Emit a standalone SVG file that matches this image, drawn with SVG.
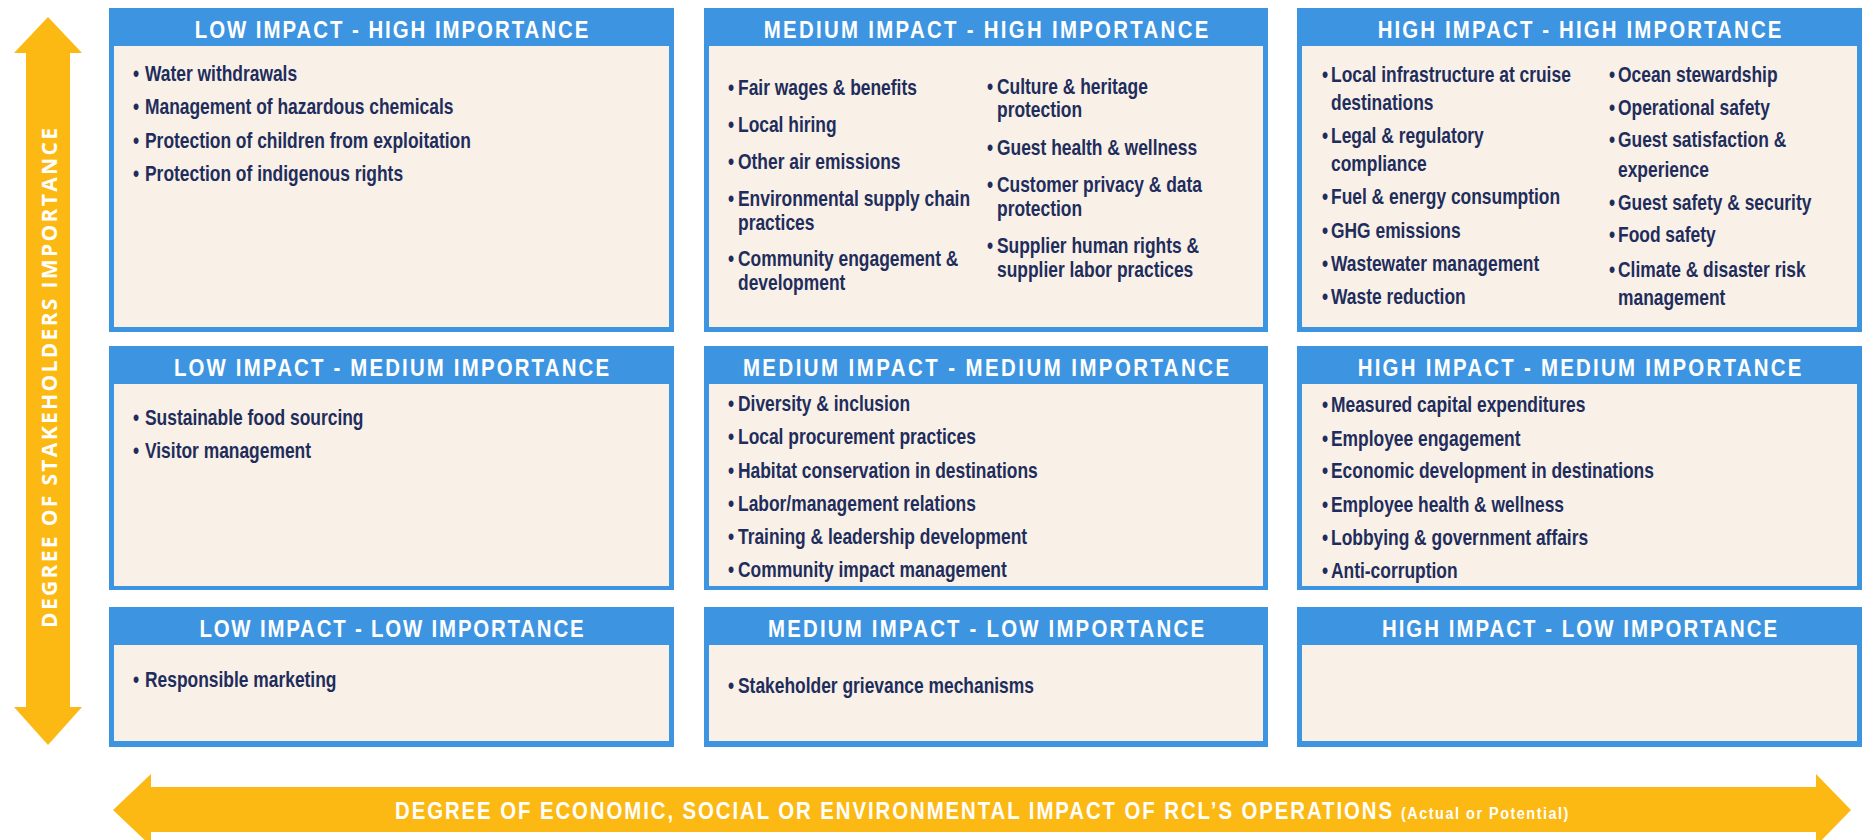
<svg xmlns="http://www.w3.org/2000/svg" width="1864" height="840" viewBox="0 0 1864 840">
<style>
.frame{fill:#3d95e2}
.cream{fill:#f9f1e7}
.hd{font-family:"Liberation Sans",Arial,sans-serif;font-weight:bold;font-size:24px;fill:#ffffff;text-anchor:middle}
.it{font-family:"Liberation Sans",Arial,sans-serif;font-weight:bold;font-size:21.5px;fill:#1f2d5c}
.ax{font-family:"Open Sans","Liberation Sans",sans-serif;font-weight:bold;font-size:21px;fill:#ffffff}
.axn{font-family:"Liberation Sans",Arial,sans-serif;font-weight:bold;fill:#ffffff}
.arrow{fill:#fdb913}
</style>
<rect width="1864" height="840" fill="#ffffff"/>
<g id="axes">
<polygon class="arrow" points="48,17 82,53 70,53 70,707 82,707 48,745 14,707 26,707 26,53 14,53"/>
<text class="ax" transform="translate(57,378) rotate(-90)" text-anchor="middle" textLength="500" lengthAdjust="spacing">DEGREE OF STAKEHOLDERS IMPORTANCE</text>
<polygon class="arrow" points="113,810 151,774 151,787 1816,787 1816,774 1851,810 1816,846 1816,832 151,832 151,846"/>
<g transform="translate(395 0) scale(0.85 1)">
<text class="axn" font-size="24" x="0" y="819" textLength="1173" lengthAdjust="spacing">DEGREE OF ECONOMIC, SOCIAL OR ENVIRONMENTAL IMPACT OF RCL’S OPERATIONS</text>
</g>
<g transform="translate(1401 0) scale(0.85 1)">
<text class="axn" font-size="17" x="0" y="819" textLength="197" lengthAdjust="spacing">(Actual or Potential)</text>
</g>
</g>
<g id="low-high">
<rect class="frame" x="109" y="8" width="565" height="324"/>
<rect class="cream" x="114" y="46" width="555" height="281"/>
<g transform="translate(391.5 0) scale(0.85 1)"><text class="hd" x="0" y="38" textLength="463" lengthAdjust="spacing">LOW IMPACT - HIGH IMPORTANCE</text></g>
<g transform="translate(145 0) scale(0.81 1)">
<text class="it" y="81"><tspan x="-14.8">•</tspan><tspan x="0">Water withdrawals</tspan></text>
<text class="it" y="114"><tspan x="-14.8">•</tspan><tspan x="0">Management of hazardous chemicals</tspan></text>
<text class="it" y="148"><tspan x="-14.8">•</tspan><tspan x="0">Protection of children from exploitation</tspan></text>
<text class="it" y="181"><tspan x="-14.8">•</tspan><tspan x="0">Protection of indigenous rights</tspan></text>
</g>
</g>
<g id="medium-high">
<rect class="frame" x="704" y="8" width="564" height="324"/>
<rect class="cream" x="709" y="46" width="554" height="281"/>
<g transform="translate(986 0) scale(0.85 1)"><text class="hd" x="0" y="38" textLength="523" lengthAdjust="spacing">MEDIUM IMPACT - HIGH IMPORTANCE</text></g>
<g transform="translate(738 0) scale(0.81 1)">
<text class="it" y="95"><tspan x="-12.3">•</tspan><tspan x="0">Fair wages &amp; benefits</tspan></text>
<text class="it" y="132"><tspan x="-12.3">•</tspan><tspan x="0">Local hiring</tspan></text>
<text class="it" y="169"><tspan x="-12.3">•</tspan><tspan x="0">Other air emissions</tspan></text>
<text class="it" y="206"><tspan x="-12.3">•</tspan><tspan x="0">Environmental supply chain</tspan><tspan x="0" y="230">practices</tspan></text>
<text class="it" y="266"><tspan x="-12.3">•</tspan><tspan x="0">Community engagement &amp;</tspan><tspan x="0" y="290">development</tspan></text>
</g>
<g transform="translate(997 0) scale(0.81 1)">
<text class="it" y="94"><tspan x="-12.3">•</tspan><tspan x="0">Culture &amp; heritage</tspan><tspan x="0" y="117">protection</tspan></text>
<text class="it" y="155"><tspan x="-12.3">•</tspan><tspan x="0">Guest health &amp; wellness</tspan></text>
<text class="it" y="192"><tspan x="-12.3">•</tspan><tspan x="0">Customer privacy &amp; data</tspan><tspan x="0" y="216">protection</tspan></text>
<text class="it" y="253"><tspan x="-12.3">•</tspan><tspan x="0">Supplier human rights &amp;</tspan><tspan x="0" y="277">supplier labor practices</tspan></text>
</g>
</g>
<g id="high-high">
<rect class="frame" x="1297" y="8" width="565" height="324"/>
<rect class="cream" x="1302" y="46" width="555" height="281"/>
<g transform="translate(1579.5 0) scale(0.85 1)"><text class="hd" x="0" y="38" textLength="475" lengthAdjust="spacing">HIGH IMPACT - HIGH IMPORTANCE</text></g>
<g transform="translate(1331 0) scale(0.81 1)">
<text class="it" y="82"><tspan x="-11.1">•</tspan><tspan x="0">Local infrastructure at cruise</tspan><tspan x="0" y="110">destinations</tspan></text>
<text class="it" y="143"><tspan x="-11.1">•</tspan><tspan x="0">Legal &amp; regulatory</tspan><tspan x="0" y="171">compliance</tspan></text>
<text class="it" y="204"><tspan x="-11.1">•</tspan><tspan x="0">Fuel &amp; energy consumption</tspan></text>
<text class="it" y="238"><tspan x="-11.1">•</tspan><tspan x="0">GHG emissions</tspan></text>
<text class="it" y="271"><tspan x="-11.1">•</tspan><tspan x="0">Wastewater management</tspan></text>
<text class="it" y="304"><tspan x="-11.1">•</tspan><tspan x="0">Waste reduction</tspan></text>
</g>
<g transform="translate(1618 0) scale(0.81 1)">
<text class="it" y="82"><tspan x="-11.1">•</tspan><tspan x="0">Ocean stewardship</tspan></text>
<text class="it" y="115"><tspan x="-11.1">•</tspan><tspan x="0">Operational safety</tspan></text>
<text class="it" y="147"><tspan x="-11.1">•</tspan><tspan x="0">Guest satisfaction &amp;</tspan><tspan x="0" y="177">experience</tspan></text>
<text class="it" y="210"><tspan x="-11.1">•</tspan><tspan x="0">Guest safety &amp; security</tspan></text>
<text class="it" y="242"><tspan x="-11.1">•</tspan><tspan x="0">Food safety</tspan></text>
<text class="it" y="277"><tspan x="-11.1">•</tspan><tspan x="0">Climate &amp; disaster risk</tspan><tspan x="0" y="305">management</tspan></text>
</g>
</g>
<g id="low-medium">
<rect class="frame" x="109" y="346" width="565" height="244"/>
<rect class="cream" x="114" y="384" width="555" height="202"/>
<g transform="translate(391.5 0) scale(0.85 1)"><text class="hd" x="0" y="376" textLength="512" lengthAdjust="spacing">LOW IMPACT - MEDIUM IMPORTANCE</text></g>
<g transform="translate(145 0) scale(0.81 1)">
<text class="it" y="425"><tspan x="-14.8">•</tspan><tspan x="0">Sustainable food sourcing</tspan></text>
<text class="it" y="458"><tspan x="-14.8">•</tspan><tspan x="0">Visitor management</tspan></text>
</g>
</g>
<g id="medium-medium">
<rect class="frame" x="704" y="346" width="564" height="244"/>
<rect class="cream" x="709" y="384" width="554" height="202"/>
<g transform="translate(986 0) scale(0.85 1)"><text class="hd" x="0" y="376" textLength="572" lengthAdjust="spacing">MEDIUM IMPACT - MEDIUM IMPORTANCE</text></g>
<g transform="translate(738 0) scale(0.81 1)">
<text class="it" y="411"><tspan x="-12.3">•</tspan><tspan x="0">Diversity &amp; inclusion</tspan></text>
<text class="it" y="444"><tspan x="-12.3">•</tspan><tspan x="0">Local procurement practices</tspan></text>
<text class="it" y="478"><tspan x="-12.3">•</tspan><tspan x="0">Habitat conservation in destinations</tspan></text>
<text class="it" y="511"><tspan x="-12.3">•</tspan><tspan x="0">Labor/management relations</tspan></text>
<text class="it" y="544"><tspan x="-12.3">•</tspan><tspan x="0">Training &amp; leadership development</tspan></text>
<text class="it" y="577"><tspan x="-12.3">•</tspan><tspan x="0">Community impact management</tspan></text>
</g>
</g>
<g id="high-medium">
<rect class="frame" x="1297" y="346" width="565" height="244"/>
<rect class="cream" x="1302" y="384" width="555" height="202"/>
<g transform="translate(1579.5 0) scale(0.85 1)"><text class="hd" x="0" y="376" textLength="522" lengthAdjust="spacing">HIGH IMPACT - MEDIUM IMPORTANCE</text></g>
<g transform="translate(1331 0) scale(0.81 1)">
<text class="it" y="412"><tspan x="-11.1">•</tspan><tspan x="0">Measured capital expenditures</tspan></text>
<text class="it" y="446"><tspan x="-11.1">•</tspan><tspan x="0">Employee engagement</tspan></text>
<text class="it" y="478"><tspan x="-11.1">•</tspan><tspan x="0">Economic development in destinations</tspan></text>
<text class="it" y="512"><tspan x="-11.1">•</tspan><tspan x="0">Employee health &amp; wellness</tspan></text>
<text class="it" y="545"><tspan x="-11.1">•</tspan><tspan x="0">Lobbying &amp; government affairs</tspan></text>
<text class="it" y="578"><tspan x="-11.1">•</tspan><tspan x="0">Anti-corruption</tspan></text>
</g>
</g>
<g id="low-low">
<rect class="frame" x="109" y="607" width="565" height="140"/>
<rect class="cream" x="114" y="645" width="555" height="96"/>
<g transform="translate(391.5 0) scale(0.85 1)"><text class="hd" x="0" y="637" textLength="452" lengthAdjust="spacing">LOW IMPACT - LOW IMPORTANCE</text></g>
<g transform="translate(145 0) scale(0.81 1)">
<text class="it" y="687"><tspan x="-14.8">•</tspan><tspan x="0">Responsible marketing</tspan></text>
</g>
</g>
<g id="medium-low">
<rect class="frame" x="704" y="607" width="564" height="140"/>
<rect class="cream" x="709" y="645" width="554" height="96"/>
<g transform="translate(986 0) scale(0.85 1)"><text class="hd" x="0" y="637" textLength="513" lengthAdjust="spacing">MEDIUM IMPACT - LOW IMPORTANCE</text></g>
<g transform="translate(738 0) scale(0.81 1)">
<text class="it" y="693"><tspan x="-12.3">•</tspan><tspan x="0">Stakeholder grievance mechanisms</tspan></text>
</g>
</g>
<g id="high-low">
<rect class="frame" x="1297" y="607" width="565" height="140"/>
<rect class="cream" x="1302" y="645" width="555" height="96"/>
<g transform="translate(1579.5 0) scale(0.85 1)"><text class="hd" x="0" y="637" textLength="465" lengthAdjust="spacing">HIGH IMPACT - LOW IMPORTANCE</text></g>
</g>
</svg>
